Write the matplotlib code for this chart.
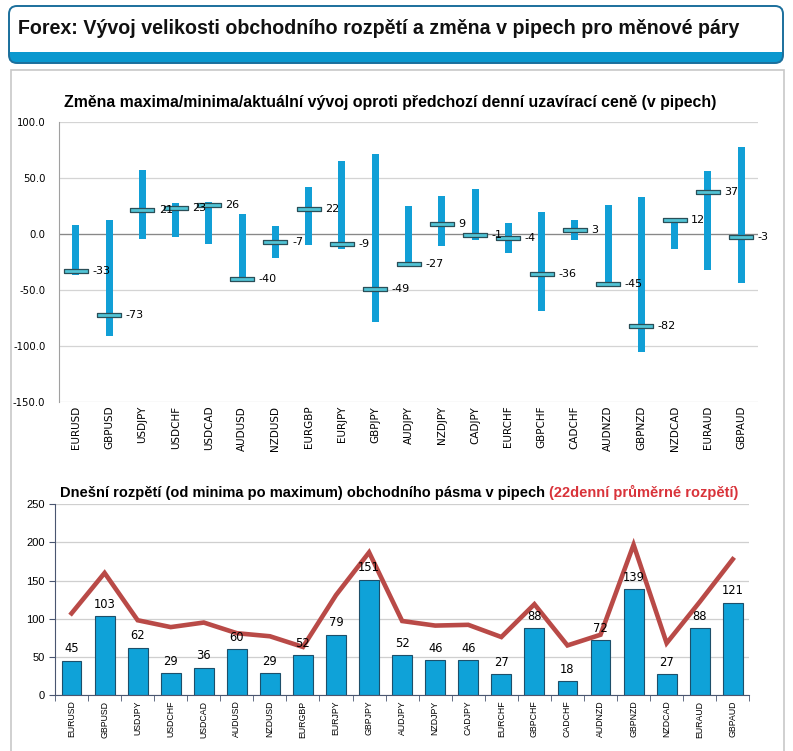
import matplotlib
matplotlib.use("Agg")
import matplotlib.pyplot as plt
from matplotlib.patches import FancyBboxPatch, Rectangle
from matplotlib.ticker import FixedLocator, NullFormatter
import numpy as np

plt.rcParams["font.family"] = ["Liberation Sans", "DejaVu Sans"]

# data
pairs = ["EURUSD", "GBPUSD", "USDJPY", "USDCHF", "USDCAD", "AUDUSD", "NZDUSD",
         "EURGBP", "EURJPY", "GBPJPY", "AUDJPY", "NZDJPY", "CADJPY", "EURCHF",
         "GBPCHF", "CADCHF", "AUDNZD", "GBPNZD", "NZDCAD", "EURAUD", "GBPAUD"]
change_high = [8, 12, 57, 27, 28, 18, 7, 42, 65, 71, 25, 34, 40, 10,
               19, 12, 26, 33, 14, 56, 77]
change_low = [-37, -91, -5, -3, -9, -40, -22, -10, -14, -79, -27, -11, -6, -17,
              -69, -6, -45, -106, -14, -32, -44]
change_close = [-33, -73, 21, 23, 26, -40, -7, 22, -9, -49, -27, 9, -1, -4,
                -36, 3, -45, -82, 12, 37, -3]
range_today = [45, 103, 62, 29, 36, 60, 29, 52, 79, 151, 52, 46, 46, 27,
               88, 18, 72, 139, 27, 88, 121]
range_avg22 = [107, 160, 98, 89, 95, 81, 77, 63, 131, 187, 97, 91, 92, 76,
               119, 65, 79, 197, 68, 122, 178]

W, H = 793, 751
fig = plt.figure(figsize=(W / 100, H / 100), dpi=100)

# background layer in pixel units
bg = fig.add_axes([0, 0, 1, 1], zorder=-5)
bg.set_xlim(0, W)
bg.set_ylim(H, 0)
bg.axis("off")

# content panel
bg.add_patch(Rectangle((10.5, 69.5), 773, 700, facecolor="white",
                       edgecolor="#c8c8c8", linewidth=1.2))

# header box
bg.add_patch(FancyBboxPatch((9, 6), 774, 57, boxstyle="round,pad=0,rounding_size=8",
                            facecolor="#0a98cf", edgecolor="none"))
bg.add_patch(FancyBboxPatch((9, 6), 774, 30, boxstyle="round,pad=0,rounding_size=8",
                            facecolor="white", edgecolor="none"))
bg.add_patch(Rectangle((9.5, 20), 773, 31.5, facecolor="white", edgecolor="none"))
bg.add_patch(FancyBboxPatch((9, 6), 774, 57, boxstyle="round,pad=0,rounding_size=8",
                            facecolor="none", edgecolor="#1b6f9c", linewidth=1.4))
bg.text(18, 29, "Forex: Vývoj velikosti obchodního rozpětí a změna v pipech pro měnové páry",
        fontsize=14.15, fontweight="bold", color="#111111", va="center", ha="left")

x = np.arange(len(pairs))

# top chart
ax1 = fig.add_axes([59.3 / W, 1 - 401.7 / H, (757.7 - 59.3) / W, (401.7 - 121.7) / H])
ax1.set_xlim(-0.5, len(pairs) - 0.5)
ax1.set_ylim(-150, 100)
ax1.set_yticks([-150, -100, -50, 0, 50, 100])
ax1.set_yticklabels([f"{v:.1f}" for v in [-150, -100, -50, 0, 50, 100]], fontsize=7.3,
                    family=["DejaVu Sans"])
ax1.yaxis.grid(True, color="#d4d4d4", linewidth=0.9)
ax1.set_axisbelow(True)
ax1.axhline(0, color="#888888", linewidth=0.9, zorder=1)
for s in ["top", "right", "bottom"]:
    ax1.spines[s].set_visible(False)
ax1.spines["left"].set_color("#a0a0a0")
ax1.tick_params(axis="y", length=0, pad=10)
ax1.tick_params(axis="x", length=0, pad=3)
ax1.set_xticks(x)
ax1.set_xticklabels(pairs, rotation=90, fontsize=7.5, family=["DejaVu Sans"])

hi = np.array(change_high)
lo = np.array(change_low)
ax1.bar(x, hi - lo, bottom=lo, width=0.21, color="#119fd6", zorder=2)
marker = [(-1, -0.2), (1, -0.2), (1, 0.2), (-1, 0.2), (-1, -0.2)]
ax1.plot(x, change_close, linestyle="none", marker=marker, ms=17,
         mfc="#52c4d6", mec="#2a4f58", mew=0.9, zorder=3)
for xi, c in zip(x, change_close):
    ax1.text(xi + 0.5, c, f"{c}", fontsize=8, va="center", ha="left",
             family=["DejaVu Sans"], zorder=4)
ax1.text(0.4735, 1.04, "Změna maxima/minima/aktuální vývoj oproti předchozí denní uzavírací ceně (v pipech)",
         transform=ax1.transAxes, fontsize=11.4, fontweight="bold", ha="center", va="bottom")

# bottom chart
ax2 = fig.add_axes([55 / W, 1 - 695 / H, (749.3 - 55) / W, (695 - 504.3) / H])
ax2.set_xlim(-0.5, len(pairs) - 0.5)
ax2.set_ylim(0, 250)
ax2.set_yticks([0, 50, 100, 150, 200, 250])
ax2.tick_params(axis="y", labelsize=8, length=4, color="#4a5670", direction="out")
ax2.yaxis.grid(True, color="#cfcfcf", linewidth=0.9)
ax2.set_axisbelow(True)
for s in ["top", "right"]:
    ax2.spines[s].set_visible(False)
ax2.spines["left"].set_color("#4a5670")
ax2.spines["bottom"].set_color("#4a5670")
ax2.set_xticks(x)
ax2.set_xticklabels(pairs, rotation=90, fontsize=6.3)
ax2.tick_params(axis="x", length=0, pad=4)
ax2.xaxis.set_minor_locator(FixedLocator(np.arange(-0.5, len(pairs), 1.0)))
ax2.xaxis.set_minor_formatter(NullFormatter())
ax2.tick_params(axis="x", which="minor", length=4, color="#4a5670")

ax2.bar(x, range_today, width=0.6, color="#0fa2d8", edgecolor="#1d4f6a",
        linewidth=0.8, zorder=2)
ax2.plot(x, range_avg22, color="#b94a47", linewidth=3.3, zorder=3,
         solid_joinstyle="miter")
for xi, v in zip(x, range_today):
    ax2.text(xi, v + 7, f"{v}", fontsize=8.3, ha="center", va="bottom",
             family=["DejaVu Sans"], zorder=4)

t1 = ax2.text(0.007, 1.025, "Dnešní rozpětí (od minima po maximum) obchodního pásma v pipech ",
              transform=ax2.transAxes, fontsize=10.5, fontweight="bold", ha="left",
              va="bottom", color="black")
ax2.annotate("(22denní průměrné rozpětí)", xy=(1, 0), xycoords=t1, fontsize=10.5,
             fontweight="bold", color="#d9333a", ha="left", va="bottom")

fig.savefig("out.png", dpi=100)
